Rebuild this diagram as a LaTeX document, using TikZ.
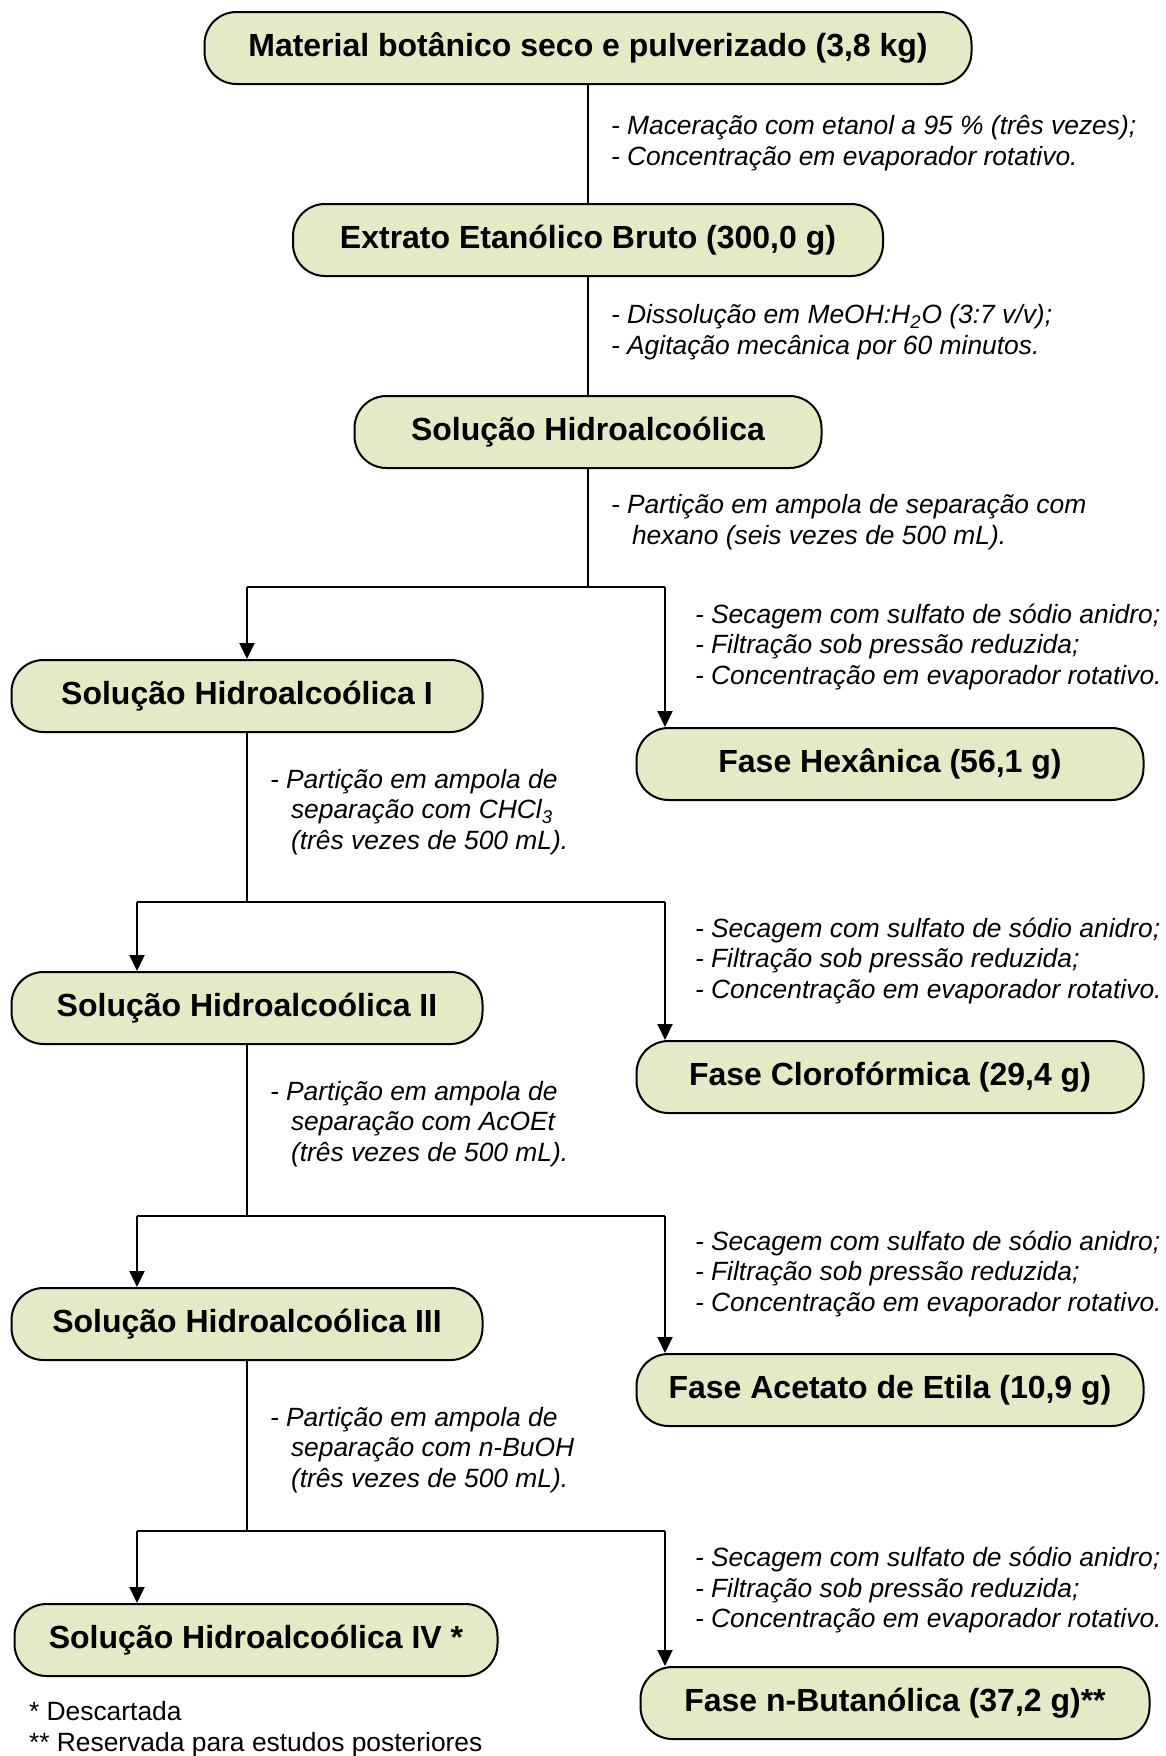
\documentclass[tikz,border=0pt]{standalone}
\usepackage{fontspec}
\setmainfont{Liberation Sans}
\usetikzlibrary{arrows.meta}
\definecolor{caixa}{RGB}{226,235,198}
\newcommand{\ind}{\hspace*{10.5pt}}
\newcommand{\secagem}{- Secagem com sulfato de sódio anidro;\\- Filtração sob pressão reduzida;\\- Concentração em evaporador rotativo.}

\begin{document}
\begin{tikzpicture}[x=0.5pt,y=-0.5pt,
   etapa/.style={draw=black,line width=1pt,fill=caixa,rounded corners=16pt,
      minimum height=36pt,inner sep=0pt,font=\fontsize{16}{19}\selectfont\bfseries},
   nota/.style={anchor=west,align=left,inner sep=0pt,
      font=\fontsize{13.2}{15.3}\selectfont\itshape},
   seta/.style={-{Triangle[length=8pt,width=7.5pt]}},
   every path/.style={line width=1pt}]
   \useasboundingbox (0,0) rectangle (1166,1756);
   \node[etapa,minimum width=383.5pt] (b1) at (588,48) {Material botânico seco e pulverizado (3,8 kg)};
   \node[etapa,minimum width=295pt] (b2) at (588,240) {Extrato Etanólico Bruto (300,0 g)};
   \node[etapa,minimum width=233.5pt] (b3) at (588,432) {Solução Hidroalcoólica};
   \node[etapa,minimum width=235.5pt] (b4) at (247,696) {Solução Hidroalcoólica I};
   \node[etapa,minimum width=253.5pt] (b5) at (890,764) {Fase Hexânica (56,1 g)};
   \node[etapa,minimum width=235.5pt] (b6) at (247,1008) {Solução Hidroalcoólica II};
   \node[etapa,minimum width=253.5pt] (b7) at (890,1077) {Fase Clorofórmica (29,4 g)};
   \node[etapa,minimum width=235.5pt] (b8) at (247,1324) {Solução Hidroalcoólica III};
   \node[etapa,minimum width=253.5pt] (b9) at (890,1390) {Fase Acetato de Etila (10,9 g)};
   \node[etapa,minimum width=241.5pt] (b10) at (256,1640) {Solução Hidroalcoólica IV *};
   \node[etapa,minimum width=254.5pt] (b11) at (895,1703) {Fase n-Butanólica (37,2 g)**};

   \node[nota] (a1) at (610,143) {- Maceração com etanol a 95 \% (três vezes);\\- Concentração em evaporador rotativo.};
   \node[nota] (a2) at (610,332) {- Dissolução em MeOH:H\textsubscript{2}O (3:7 v/v);\\- Agitação mecânica por 60 minutos.};
   \node[nota] (a3) at (610,522) {- Partição em ampola de separação com\\\ind hexano (seis vezes de 500 mL).};
   \node[nota] (c1) at (269,812) {- Partição em ampola de\\\ind separação com CHCl\textsubscript{3}\\\ind (três vezes de 500 mL).};
   \node[nota] (c2) at (269,1124) {- Partição em ampola de\\\ind separação com AcOEt\\\ind (três vezes de 500 mL).};
   \node[nota] (c3) at (269,1450) {- Partição em ampola de\\\ind separação com n-BuOH\\\ind (três vezes de 500 mL).};
   \node[nota] (d1) at (694,647) {\secagem};
   \node[nota] (d2) at (694,961) {\secagem};
   \node[nota] (d3) at (694,1274) {\secagem};
   \node[nota] (d4) at (694,1590) {\secagem};
   \node[nota,font=\fontsize{13.2}{15.3}\selectfont] (rod) at (28,1729) {* Descartada\\** Reservada para estudos posteriores};

   \draw (b1) -- (b2);
   \draw (b2) -- (b3);
   \coordinate (s1) at (588,587);
   \coordinate (l1) at (247,587);
   \coordinate (r1) at (665,587);
   \draw (b3) -- (s1);
   \draw (l1) -- (r1);
   \draw[seta] (l1) -- (b4);
   \draw[seta] (r1) -- (r1 |- b5.north);
   \coordinate (s2) at (247,902);
   \coordinate (l2) at (137,902);
   \coordinate (r2) at (665,902);
   \draw (b4) -- (s2);
   \draw (l2) -- (r2);
   \draw[seta] (l2) -- (l2 |- b6.north);
   \draw[seta] (r2) -- (r2 |- b7.north);
   \coordinate (s3) at (247,1216);
   \coordinate (l3) at (137,1216);
   \coordinate (r3) at (665,1216);
   \draw (b6) -- (s3);
   \draw (l3) -- (r3);
   \draw[seta] (l3) -- (l3 |- b8.north);
   \draw[seta] (r3) -- (r3 |- b9.north);
   \coordinate (s4) at (247,1531);
   \coordinate (l4) at (137,1531);
   \coordinate (r4) at (665,1531);
   \draw (b8) -- (s4);
   \draw (l4) -- (r4);
   \draw[seta] (l4) -- (l4 |- b10.north);
   \draw[seta] (r4) -- (r4 |- b11.north);
\end{tikzpicture}
\end{document}
